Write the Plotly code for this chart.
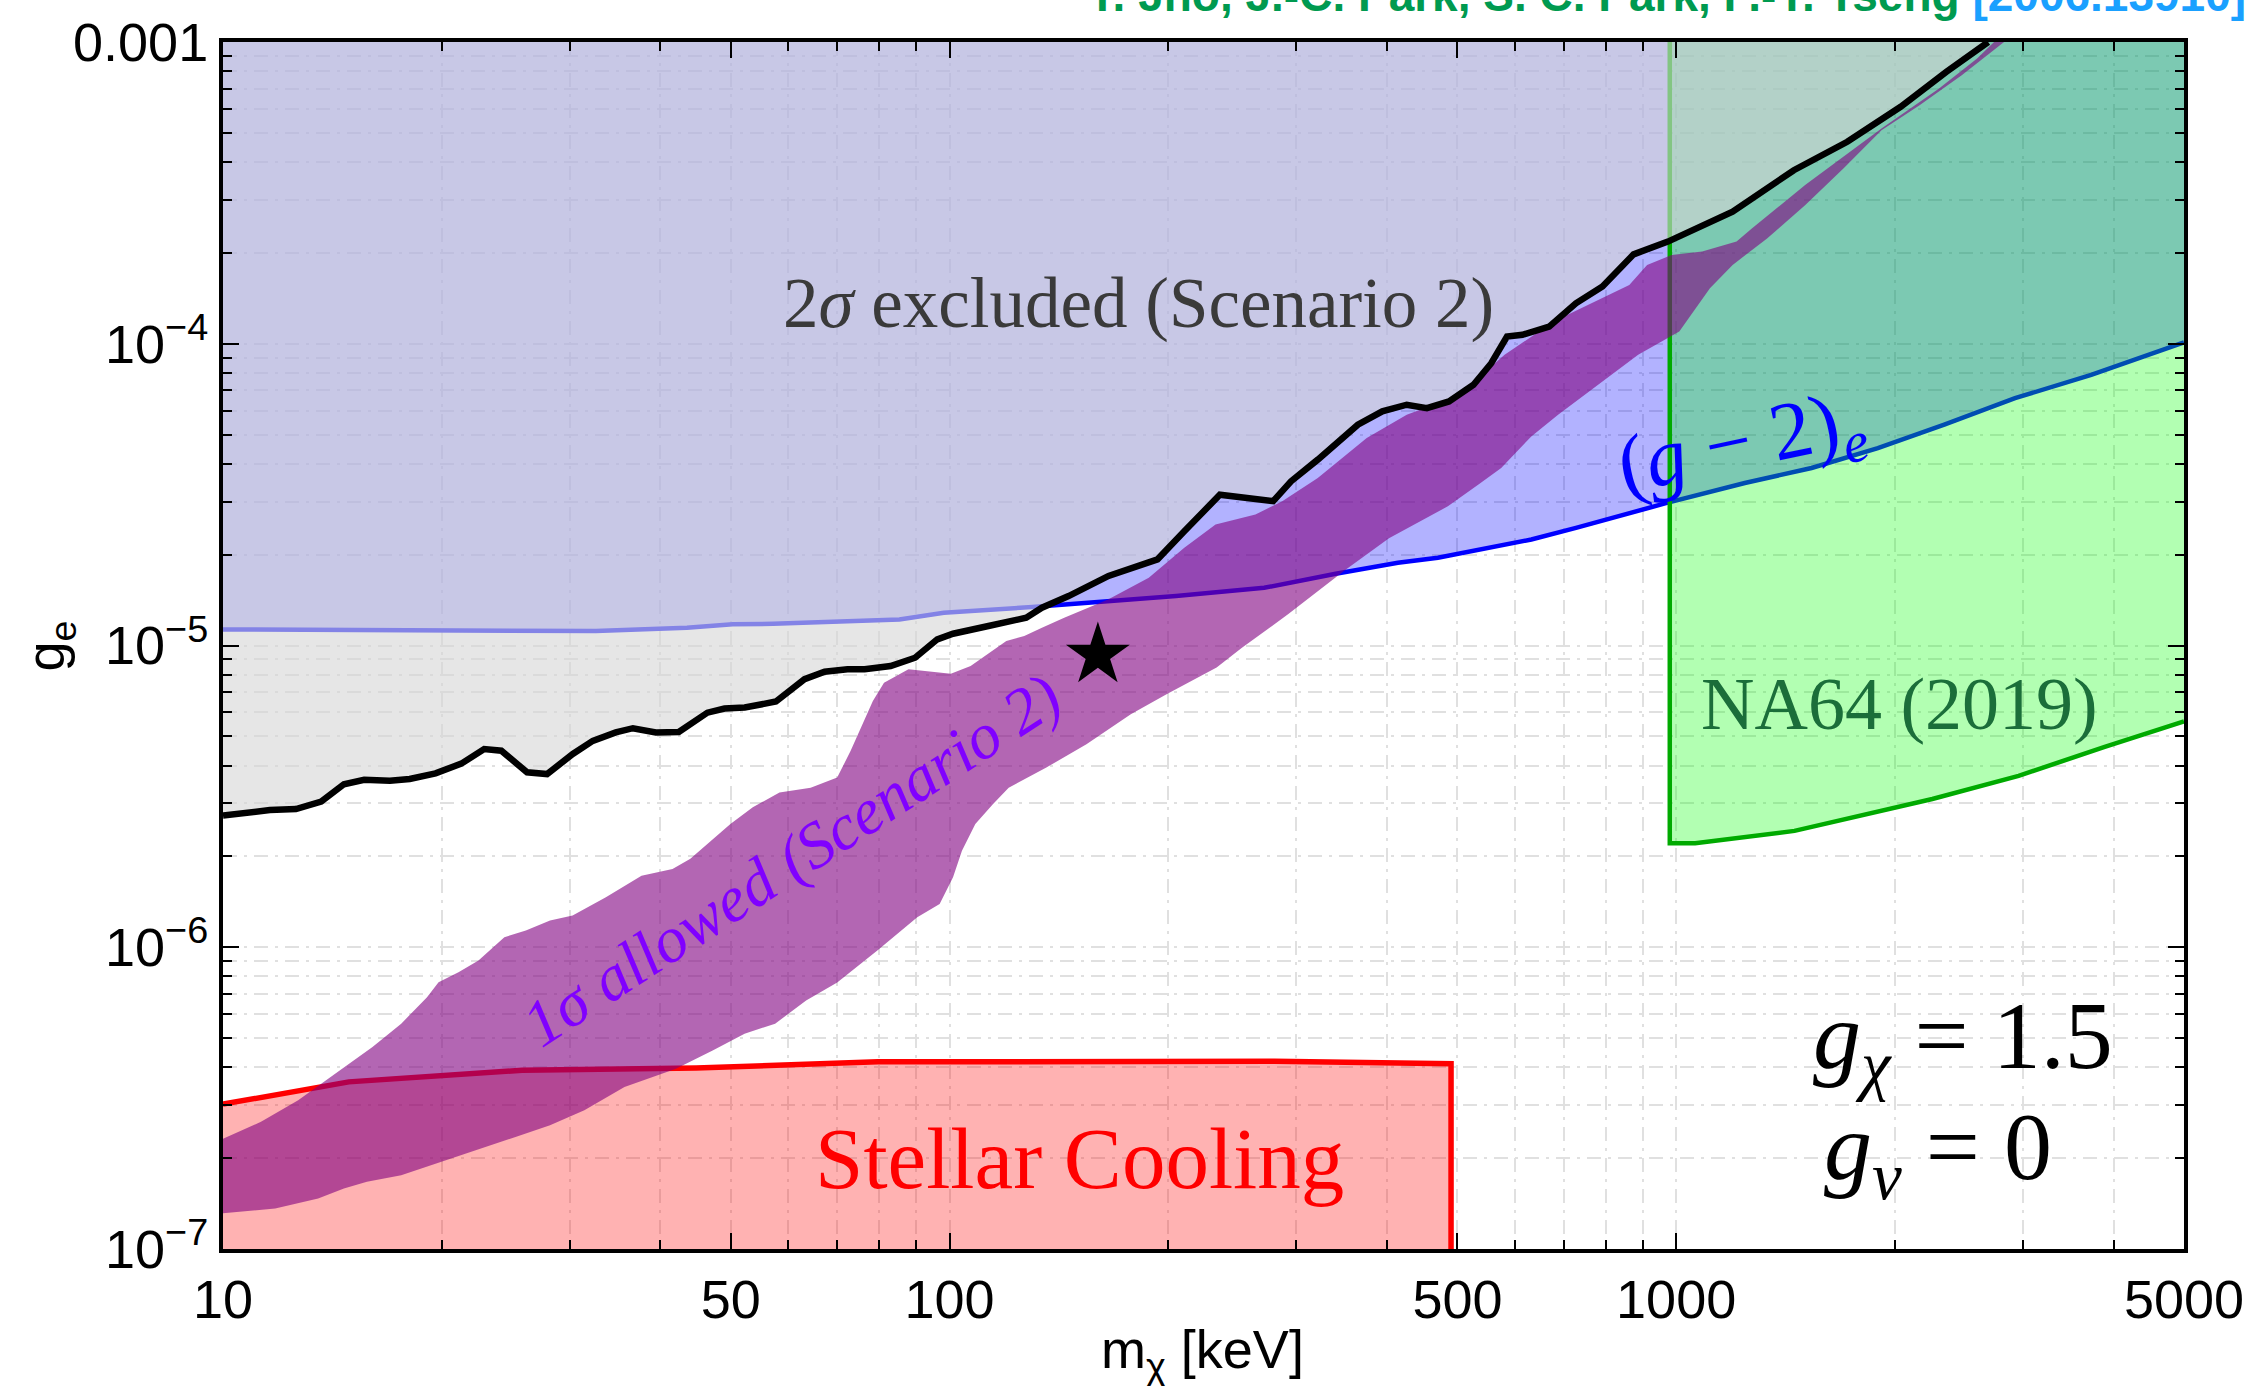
import math
import plotly.graph_objects as go

# ---------------- data (m_chi in keV, g_e) ----------------
black_x = [10, 11.6, 12.6, 13.65, 14.67, 15.64, 16.97, 18.07, 19.61, 21.28, 22.88, 24.16, 26.21, 27.93, 30.3,
           32.28, 34.72, 36.66, 39.42, 42.39, 46.42, 49.0, 52.24, 57.68, 63.15, 67.3, 72.36, 76.4, 82.95, 89.66,
           96.18, 101.1, 113.1, 127.5, 134.0, 145.8, 165.5, 180.2, 193.3, 210.4, 235.5, 278.9, 295.1, 321.2, 364.7,
           394.1, 425.8, 453.9, 486.8, 526.1, 556.6, 585.0, 614.5, 668.7, 727.8, 791.8, 873.8, 974.2, 1126, 1196,
           1452, 1720, 2037, 2354, 2688]
black_y = [2.73e-6, 2.85e-6, 2.87e-6, 3.04e-6, 3.47e-6, 3.59e-6, 3.56e-6, 3.61e-6, 3.77e-6, 4.06e-6, 4.54e-6,
           4.48e-6, 3.80e-6, 3.75e-6, 4.37e-6, 4.83e-6, 5.15e-6, 5.32e-6, 5.15e-6, 5.17e-6, 5.99e-6, 6.18e-6,
           6.23e-6, 6.52e-6, 7.73e-6, 8.19e-6, 8.34e-6, 8.34e-6, 8.55e-6, 9.11e-6, 1.048e-5, 1.094e-5, 1.16e-5,
           1.236e-5, 1.334e-5, 1.458e-5, 1.70e-5, 1.81e-5, 1.93e-5, 2.39e-5, 3.16e-5, 3.01e-5, 3.50e-5, 4.13e-5,
           5.39e-5, 5.97e-5, 6.28e-5, 6.12e-5, 6.44e-5, 7.31e-5, 8.62e-5, 1.057e-4, 1.071e-4, 1.14e-4, 1.362e-4,
           1.547e-4, 1.978e-4, 2.18e-4, 2.54e-4, 2.74e-4, 3.76e-4, 4.67e-4, 6.10e-4, 7.96e-4, 1.0e-3]

g2_x = [10, 32.6, 43.5, 50.3, 57.2, 85.3, 98.2, 130, 205, 271, 340, 414, 470, 632, 728, 971, 1243, 1536,
        1895, 2339, 2927, 3726, 5000]
g2_y = [1.13e-5, 1.117e-5, 1.146e-5, 1.175e-5, 1.18e-5, 1.22e-5, 1.284e-5, 1.341e-5, 1.458e-5, 1.553e-5,
        1.728e-5, 1.879e-5, 1.953e-5, 2.245e-5, 2.453e-5, 2.968e-5, 3.456e-5, 3.875e-5, 4.51e-5, 5.39e-5,
        6.60e-5, 7.89e-5, 1.01e-4]

na64_x = [980, 980, 1062, 1455, 2252, 2960, 3889, 5000]
na64_y = [1e-3, 2.21e-6, 2.21e-6, 2.43e-6, 3.10e-6, 3.70e-6, 4.61e-6, 5.6e-6]

stellar_x = [10, 14.9, 25.8, 44.8, 79.65, 280, 490, 490]
stellar_y = [3.02e-7, 3.58e-7, 3.91e-7, 3.98e-7, 4.17e-7, 4.19e-7, 4.11e-7, 1e-7]

allowed_up_x = [10, 11.28, 12.69, 14.67, 16.06, 17.59, 19.09, 19.80, 21.09, 22.47, 24.39, 26.11, 28.19, 30.28,
                33.65, 37.67, 41.56, 43.98, 49.93, 53.60, 58.33, 64.39, 70.04, 73.09, 76.25, 78.42, 81.24, 87.79,
                100.4, 106.9, 119.7, 126.7, 134.0, 143.8, 165.5, 188.0, 210.4, 232.3, 263.6, 287.0, 321.2, 375.1,
                425.8, 450.6, 490.4, 533.6, 580.6, 678.2, 862.0, 912.0, 985.8, 1086, 1211, 1271, 1505, 1917, 2298,
                2593, 2739]
allowed_up_y = [2.32e-7, 2.64e-7, 3.11e-7, 4.01e-7, 4.67e-7, 5.58e-7, 6.83e-7, 7.66e-7, 8.27e-7, 9.04e-7,
                1.08e-6, 1.136e-6, 1.226e-6, 1.274e-6, 1.464e-6, 1.727e-6, 1.818e-6, 1.963e-6, 2.56e-6, 2.91e-6,
                3.26e-6, 3.38e-6, 3.65e-6, 4.48e-6, 5.63e-6, 6.55e-6, 7.53e-6, 8.34e-6, 8.06e-6, 8.55e-6,
                1.035e-5, 1.075e-5, 1.145e-5, 1.236e-5, 1.422e-5, 1.676e-5, 2.107e-5, 2.518e-5, 2.718e-5,
                3.006e-5, 3.59e-5, 4.87e-5, 5.82e-5, 6.12e-5, 6.61e-5, 7.69e-5, 9.19e-5, 1.185e-4, 1.567e-4,
                1.825e-4, 1.969e-4, 2.02e-4, 2.18e-4, 2.411e-4, 3.356e-4, 5.165e-4, 7.005e-4, 8.805e-4, 1.0e-3]
allowed_lo_x = [10, 11.80, 13.52, 14.67, 15.78, 17.59, 19.61, 22.27, 25.27, 28.19, 31.43, 35.69, 42.02, 47.20,
                52.22, 57.53, 63.47, 70.04, 79.54, 90.27, 96.90, 101.1, 104.0, 108.5, 114.7, 120.6, 135.9, 154.3,
                177.6, 198.9, 233.1, 252.3, 292.6, 350.4, 402.5, 485.1, 535.1, 574.4, 631.9, 687.9, 759.3, 886.6,
                1010, 1113, 1196, 1334, 1506, 1699, 1917, 2163, 2472, 2827]
allowed_lo_y = [1.313e-7, 1.363e-7, 1.471e-7, 1.588e-7, 1.67e-7, 1.757e-7, 1.921e-7, 2.126e-7, 2.352e-7,
                2.572e-7, 2.884e-7, 3.443e-7, 3.96e-7, 4.55e-7, 5.17e-7, 5.58e-7, 6.66e-7, 7.64e-7, 9.75e-7,
                1.257e-6, 1.392e-6, 1.705e-6, 2.09e-6, 2.56e-6, 2.98e-6, 3.38e-6, 3.94e-6, 4.71e-6, 5.92e-6,
                6.90e-6, 8.45e-6, 9.81e-6, 1.271e-5, 1.778e-5, 2.268e-5, 2.893e-5, 3.422e-5, 3.875e-5, 4.93e-5,
                5.82e-5, 6.95e-5, 9.19e-5, 1.098e-4, 1.527e-4, 1.825e-4, 2.234e-4, 2.882e-4, 3.81e-4, 5.10e-4,
                6.17e-4, 7.76e-4, 1.0e-3]

star_x = [160]
star_y = [9.3e-6]

x_range = [10, 5000]
y_range = [1e-7, 1e-3]
x_tick_vals = [10, 50, 100, 500, 1000, 5000]
x_tick_text = ["10", "50", "100", "500", "1000", "5000"]
y_tick_vals = [1e-7, 1e-6, 1e-5, 1e-4, 1e-3]
y_tick_text = ["10<sup>\u22127</sup>", "10<sup>\u22126</sup>", "10<sup>\u22125</sup>", "10<sup>\u22124</sup>", "0.001"]
x_minor = [20, 30, 40, 60, 70, 80, 90, 200, 300, 400, 600, 700, 800, 900, 2000, 3000, 4000]
y_minor = [m * 10.0 ** e for e in range(-7, -3) for m in range(2, 10)]

# ---------------- figure ----------------
fig = go.Figure()
top = y_range[1]
left = x_range[0]
right = x_range[1]

# (g-2)_e excluded region
fig.add_trace(go.Scatter(x=g2_x + [right, left], y=g2_y + [top, top], fill="toself",
                         fillcolor="rgba(0,0,255,0.3)", line=dict(width=0), mode="lines", hoverinfo="skip"))
fig.add_trace(go.Scatter(x=g2_x, y=g2_y, mode="lines", line=dict(color="#0000ff", width=4.5), hoverinfo="skip"))

# NA64
fig.add_trace(go.Scatter(x=na64_x + [right], y=na64_y + [top], fill="toself",
                         fillcolor="rgba(0,255,0,0.3)", line=dict(width=0), mode="lines", hoverinfo="skip"))
fig.add_trace(go.Scatter(x=na64_x, y=na64_y, mode="lines", line=dict(color="#00aa00", width=4.5), hoverinfo="skip"))

# 2 sigma excluded (gray)
fig.add_trace(go.Scatter(x=black_x + [left], y=black_y + [top], fill="toself",
                         fillcolor="rgba(214,214,214,0.61)", line=dict(width=0), mode="lines", hoverinfo="skip"))

# Stellar cooling
fig.add_trace(go.Scatter(x=stellar_x + [left], y=stellar_y + [y_range[0]], fill="toself",
                         fillcolor="rgba(255,0,0,0.3)", line=dict(width=0), mode="lines", hoverinfo="skip"))
fig.add_trace(go.Scatter(x=stellar_x, y=stellar_y, mode="lines", line=dict(color="#ff0000", width=5.5),
                         hoverinfo="skip"))

# 1 sigma allowed band
fig.add_trace(go.Scatter(x=allowed_up_x + allowed_lo_x[::-1], y=allowed_up_y + allowed_lo_y[::-1],
                         fill="toself", fillcolor="rgba(128,0,128,0.6)", line=dict(width=0), mode="lines",
                         hoverinfo="skip"))

# black boundary
fig.add_trace(go.Scatter(x=black_x, y=black_y, mode="lines", line=dict(color="black", width=6.5),
                         hoverinfo="skip"))

# star
fig.add_trace(go.Scatter(x=star_x, y=star_y, mode="markers",
                         marker=dict(symbol="star", size=48, color="black", line=dict(width=0)), hoverinfo="skip"))

grid_col = "#e0e0e0"
grid_dash = "14px,7px,3px,7px"
axis_common = dict(ticks="inside", ticklen=16, tickwidth=2, tickcolor="black", showline=True, linewidth=4,
                   linecolor="black", mirror="allticks", showgrid=True, gridcolor=grid_col, griddash=grid_dash,
                   gridwidth=1.5, zeroline=False, layer="above traces",
                   tickfont=dict(family="Liberation Sans, Arial, sans-serif", size=54, color="black"))

fig.update_xaxes(type="log", range=[math.log10(x_range[0]), math.log10(x_range[1])],
                 tickvals=x_tick_vals, ticktext=x_tick_text,
                 minor=dict(tickvals=x_minor, ticks="inside", ticklen=9, tickwidth=2, tickcolor="black",
                            showgrid=True, gridcolor=grid_col, griddash=grid_dash, gridwidth=1.5),
                 **axis_common)
fig.update_yaxes(type="log", range=[math.log10(y_range[0]), math.log10(y_range[1])],
                 tickvals=y_tick_vals, ticktext=y_tick_text,
                 minor=dict(tickvals=y_minor, ticks="inside", ticklen=9, tickwidth=2, tickcolor="black",
                            showgrid=True, gridcolor=grid_col, griddash=grid_dash, gridwidth=1.5),
                 **axis_common)

serif = "Liberation Serif, Times New Roman, serif"
L = math.log10
annotations = [
    dict(x=L(182), y=L(1.36e-4), text="2<i>σ</i> excluded (Scenario 2)", font=dict(family=serif, size=71, color="#3a3a3a")),
    dict(x=L(60.6), y=L(1.94e-6), text="<i>1σ allowed (Scenario 2)</i>", textangle=-33,
         font=dict(family=serif, size=65, color="#8000ff")),
    dict(x=L(1230), y=L(4.6e-5), text="(<i>g</i> − 2)<sub><i>e</i></sub>", textangle=-12,
         font=dict(family=serif, size=82, color="#0000ff")),
    dict(x=L(2030), y=L(6.4e-6), text="NA64 (2019)", font=dict(family=serif, size=74, color="#1b6e3a")),
    dict(x=L(151), y=L(2.0e-7), text="Stellar Cooling", font=dict(family=serif, size=87, color="#ff0000")),
    dict(x=L(2480), y=L(4.85e-7), text="<i>g</i><sub><i>χ</i></sub> = 1.5", font=dict(family=serif, size=96, color="black")),
    dict(x=L(2290), y=L(2.08e-7), text="<i>g</i><sub><i>ν</i></sub> = 0", font=dict(family=serif, size=96, color="black")),
]
for a in annotations:
    a.update(xref="x", yref="y", showarrow=False, xanchor="center", yanchor="middle")

# axis titles
annotations.append(dict(xref="paper", yref="paper", x=-0.0885, y=0.4996, text="g<sub>e</sub>", textangle=-90,
                        showarrow=False, xanchor="center", yanchor="middle",
                        font=dict(family="Liberation Sans, Arial, sans-serif", size=54, color="black")))
annotations.append(dict(xref="paper", yref="paper", x=0.4997, y=-0.0865, text="m<sub>χ</sub> [keV]",
                        showarrow=False, xanchor="center", yanchor="middle",
                        font=dict(family="Liberation Sans, Arial, sans-serif", size=54, color="black")))
# clipped credit line at the very top
annotations.append(dict(xref="paper", yref="paper", x=1.0325, y=1.039, xanchor="right", yanchor="middle",
                        showarrow=False,
                        text="<b><span style='color:#009a50'>Y. Jho, J.-C. Park, S. C. Park, P.-Y. Tseng</span> "
                             "<span style='color:#1aa0ff'>[2006.13910]</span></b>",
                        font=dict(family="Liberation Sans Narrow, Liberation Sans, Arial, sans-serif", size=46)))

fig.update_layout(width=2256, height=1386, autosize=False, showlegend=False,
                  margin=dict(l=223, r=66, t=40, b=137, pad=0),
                  plot_bgcolor="white", paper_bgcolor="white", annotations=annotations)

fig.write_html("out.html")
